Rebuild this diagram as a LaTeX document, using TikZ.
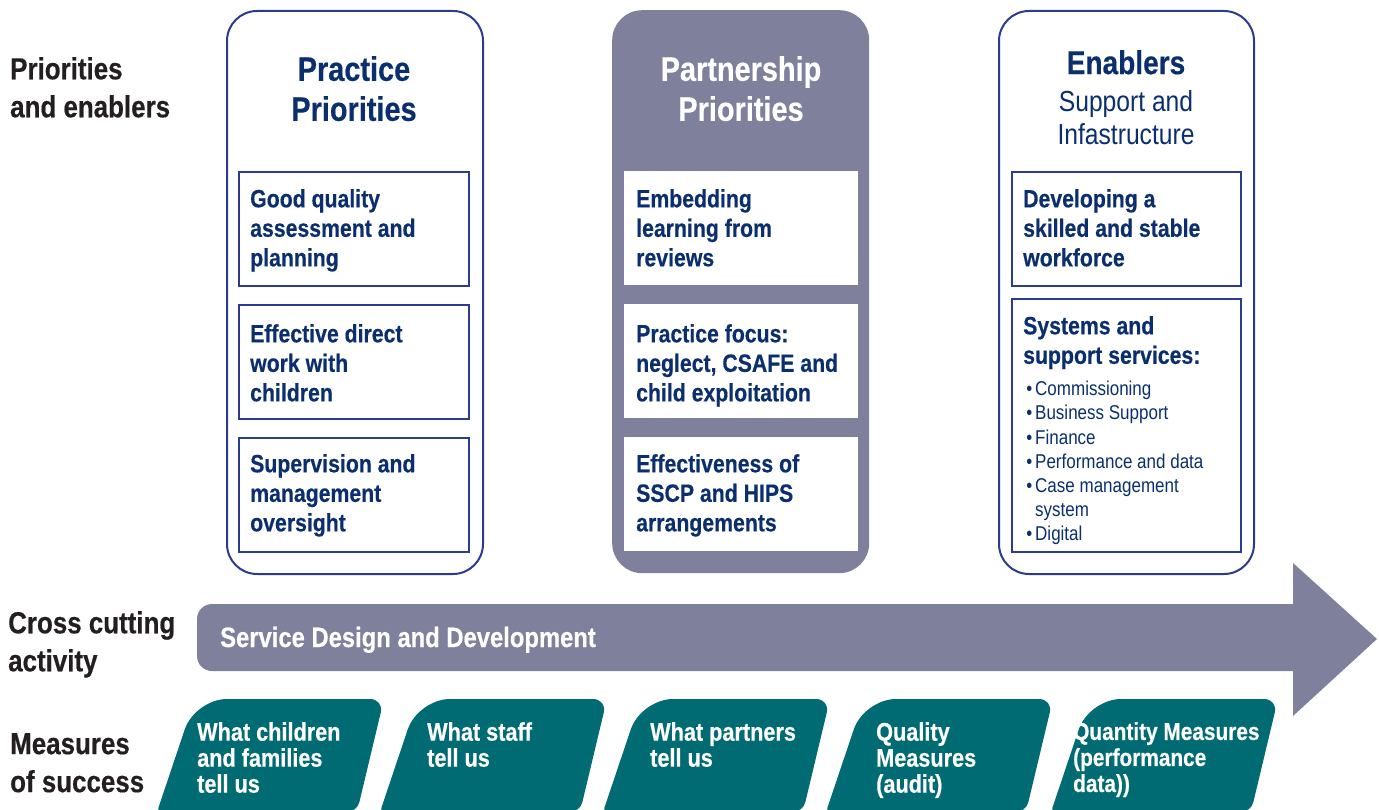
\documentclass[tikz,border=0pt]{standalone}
\usepackage{fontspec}
\setmainfont{Liberation Sans}[FakeStretch=0.85,BoldFeatures={FakeBold=0.4}]
\definecolor{navyink}{HTML}{0B2F6E}
\definecolor{navyline}{HTML}{2D3B8E}
\definecolor{slate}{HTML}{7E809C}
\definecolor{tealfill}{HTML}{006B73}
\definecolor{labelink}{HTML}{231F20}
\begin{document}
\begin{tikzpicture}[x=1pt,y=-1pt,
  sidelabel/.style={anchor=north west, inner sep=0, align=left, text=labelink,
    font=\bfseries\fontsize{30.5}{38}\selectfont},
  colframe/.style={draw=navyline, line width=2pt, rounded corners=30,
    minimum width=256, minimum height=563, anchor=north west, inner sep=0},
  colfilled/.style={fill=slate, rounded corners=30,
    minimum width=257, minimum height=563, anchor=north west, inner sep=0},
  coltitle/.style={anchor=north, inner sep=0, align=center,
    font=\bfseries\fontsize{34}{40}\selectfont},
  itembox/.style={draw=navyline, line width=2pt, anchor=north west, inner sep=0,
    minimum width=230, minimum height=114},
  whitebox/.style={fill=white, anchor=north west, inner sep=0,
    minimum width=234, minimum height=114},
  itemtext/.style={anchor=north west, inner sep=0, align=left, text=navyink,
    font=\bfseries\fontsize{25}{29.5}\selectfont},
  listtext/.style={anchor=north west, inner sep=0, align=left, text=navyink,
    font=\fontsize{20}{24.2}\selectfont},
  measuretext/.style={anchor=north west, inner sep=0, align=left, text=white,
    font=\bfseries\fontsize{25.5}{26}\selectfont}
]
\useasboundingbox (0,0) rectangle (1379,810);

% row labels
\node[sidelabel] (lab1) at (10,57) {Priorities\\and enablers};
\node[sidelabel] (lab2) at (8,611) {Cross cutting\\activity};
\node[sidelabel] (lab3) at (10,733) {Measures\\of success};

% column 1: practice priorities
\node[colframe] (col1) at (226,10) {};
\node[coltitle, text=navyink] (t1) at (354,56) {Practice\\Priorities};
\node[itembox] (p1) at (238,171) {};
\node[itembox] (p2) at (238,304) {};
\node[itembox] (p3) at (238,437) {};
\node[itemtext] (p1t) at (250,189) {Good quality\\assessment and\\planning};
\node[itemtext] (p2t) at (250,324) {Effective direct\\work with\\children};
\node[itemtext] (p3t) at (250,454) {Supervision and\\management\\oversight};

% column 2: partnership priorities
\node[colfilled] (col2) at (612,10) {};
\node[coltitle, text=white] (t2) at (741,56) {Partnership\\Priorities};
\node[whitebox] (q1) at (624,171) {};
\node[whitebox] (q2) at (624,304) {};
\node[whitebox] (q3) at (624,437) {};
\node[itemtext] (q1t) at (636,189) {Embedding\\learning from\\reviews};
\node[itemtext] (q2t) at (636,324) {Practice focus:\\neglect, CSAFE and\\child exploitation};
\node[itemtext] (q3t) at (636,454) {Effectiveness of\\SSCP and HIPS\\arrangements};

% column 3: enablers
\node[colframe, minimum width=255] (col3) at (998,10) {};
\node[coltitle, text=navyink, font=\bfseries\fontsize{33}{40}\selectfont] (t3) at (1126,50) {Enablers};
\node[anchor=north, inner sep=0, align=center, text=navyink,
  font=\fontsize{29}{33}\selectfont] (t3b) at (1126,90) {Support and\\Infastructure};
\node[itembox, minimum width=229] (e1) at (1011,171) {};
\node[itembox, minimum width=229, minimum height=253] (e2) at (1011,298) {};
\node[itemtext] (e1t) at (1023,189) {Developing a\\skilled and stable\\workforce};
\node[itemtext] (e2t) at (1023,316) {Systems and\\support services:};
\node[listtext] (e2l) at (1035,381) {%
  \llap{\textbullet\hspace{3pt}}Commissioning\\
  \llap{\textbullet\hspace{3pt}}Business Support\\
  \llap{\textbullet\hspace{3pt}}Finance\\
  \llap{\textbullet\hspace{3pt}}Performance and data\\
  \llap{\textbullet\hspace{3pt}}Case management\\
  system\\
  \llap{\textbullet\hspace{3pt}}Digital};

% cross cutting arrow
\fill[slate] (700,604) -- (1293,604) -- (1293,563) -- (1377,639) -- (1293,716)
  -- (1293,671) [rounded corners=15] -- (197,671) -- (197,604) -- cycle;
\node[anchor=base west, inner sep=0, text=white,
  font=\bfseries\fontsize{28}{32}\selectfont] (sdd) at (220,647) {Service Design and Development};

% measures of success
\foreach \a in {195,418,641,864,1089}{
  \fill[tealfill] (\a+100,699) [rounded corners=14] -- (\a+189,699)
    [rounded corners=10] -- (\a+162,812) [rounded corners=4] -- (\a-38,812)
    [rounded corners=32] -- (\a,699) -- cycle;
}
\node[measuretext] (m1) at (197,722) {What children\\and families\\tell us};
\node[measuretext] (m2) at (427,722) {What staff\\tell us};
\node[measuretext] (m3) at (650,722) {What partners\\tell us};
\node[measuretext] (m4) at (876,722) {Quality\\Measures\\(audit)};
\node[measuretext, font=\bfseries\fontsize{24.5}{26}\selectfont] (m5) at (1073,722) {Quantity Measures\\(performance\\data))};
\end{tikzpicture}
\end{document}
